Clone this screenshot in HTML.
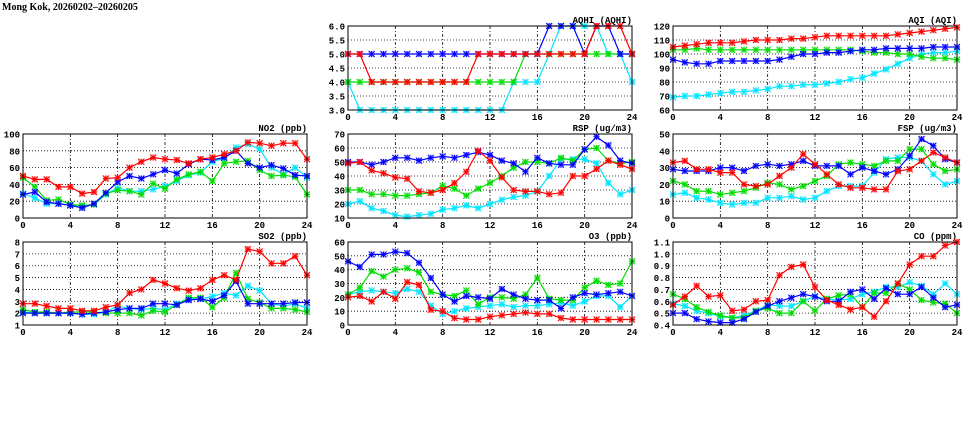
<!DOCTYPE html>
<html><head><meta charset="utf-8"><style>
html,body{margin:0;padding:0;background:#fff;}
svg{display:block;font-family:"Liberation Mono",monospace;}
</style></head><body>
<svg id="c" width="975" height="447" viewBox="0 0 975 447">
<text x="2" y="10" font-size="10" font-weight="bold" font-family="Liberation Serif, serif">Mong Kok, 20260202–20260205</text>
</svg>
<script>
const hours=[0,1,2,3,4,5,6,7,8,9,10,11,12,13,14,15,16,17,18,19,20,21,22,23,24];
const xTicks=[0,4,8,12,16,20,24];
const seriesColors=["#00e5ff","#00dd00","#0000ff","#ff0000"];
const seriesNames=["cyan","green","blue","red"];
// NO2
const no2Cyan=[29,24,17,17,15,14,16,28,36,32,32,34,38,44,51,54,67,71,84,88,82,60,52,60,48];
const no2Green=[48,37,21,22,16,15,16,29,33,32,28,41,35,46,52,55,44,65,67,68,57,50,51,49,28];
const no2Blue=[28,31,19,17,15,12,17,30,43,50,47,52,57,53,64,70,69,72,80,65,60,63,59,51,50];
const no2Red=[50,46,46,37,37,29,31,47,48,60,67,72,70,69,65,70,72,76,80,90,89,86,89,89,70];
const no2Ticks=[0,20,40,60,80,100];
// SO2
const so2Cyan=[2.1,2.0,2.0,2.0,2.0,1.9,1.9,2.1,2.6,2.4,2.3,2.4,2.3,2.8,3.2,3.2,3.4,3.7,3.5,4.3,3.9,2.8,2.6,2.8,2.4];
const so2Green=[2.3,2.1,2.1,2.0,2.1,2.1,2.1,2.0,2.0,2.0,1.8,2.2,2.1,2.7,3.3,3.3,2.5,3.3,5.4,3.2,2.9,2.4,2.4,2.3,2.1];
const so2Blue=[2.0,2.0,2.0,2.0,2.0,1.9,2.0,2.1,2.3,2.4,2.4,2.8,2.8,2.7,3.1,3.2,3.0,3.5,4.7,2.8,2.8,2.8,2.8,2.9,2.9];
const so2Red=[2.8,2.8,2.6,2.4,2.4,2.2,2.2,2.5,2.7,3.7,4.0,4.8,4.5,4.1,3.9,4.1,4.8,5.2,4.8,7.4,7.2,6.2,6.2,6.8,5.2];
const so2Ticks=[1,2,3,4,5,6,7,8];
// AQHI
const aqhiCyan=[4,3,3,3,3,3,3,3,3,3,3,3,3,3,4,4,4,5,6,6,6,6,5,5,4];
const aqhiGreen=[4,4,4,4,4,4,4,4,4,4,4,4,4,4,4,5,5,5,5,5,5,5,5,5,5];
const aqhiBlue=[5,5,5,5,5,5,5,5,5,5,5,5,5,5,5,5,5,6,6,6,5,6,6,5,5];
const aqhiRed=[5,5,4,4,4,4,4,4,4,4,4,5,5,5,5,5,5,5,5,5,5,6,6,6,5];
const aqhiTicks=[3.0,3.5,4.0,4.5,5.0,5.5,6.0];
// RSP
const rspCyan=[20,22,17,15,12,11,12,13,16,17,19,17,20,23,25,26,29,40,52,52,52,49,35,27,30];
const rspGreen=[30,30,27,27,26,26,27,28,33,31,26,31,35,40,46,50,50,49,53,51,59,60,51,49,50];
const rspBlue=[50,50,48,50,53,53,51,53,54,53,55,57,55,51,49,43,53,49,48,48,59,68,62,51,49];
const rspRed=[49,50,44,42,39,38,29,28,30,35,43,58,51,39,30,29,29,27,28,40,40,45,51,48,45];
const rspTicks=[10,20,30,40,50,60,70];
// O3
const o3Cyan=[22,24,25,24,23,26,24,14,8,10,12,13,14,15,13,14,14,15,16,14,17,21,21,13,21];
const o3Green=[22,27,39,35,40,41,38,24,22,21,25,15,20,20,19,22,34,19,18,18,27,32,29,30,46];
const o3Blue=[46,42,51,51,53,52,45,34,22,17,21,20,19,26,22,19,18,18,12,20,23,22,23,24,21];
const o3Red=[20,21,17,24,19,31,29,11,10,5,4,4,6,7,8,9,8,8,5,4,4,4,4,4,4];
const o3Ticks=[0,10,20,30,40,50,60];
// AQI
const aqiCyan=[69,70,70,71,72,73,73,74,75,77,77,78,78,79,80,82,83,86,89,93,97,100,101,101,102];
const aqiGreen=[103,103,104,103,103,103,103,103,103,103,103,103,103,103,103,103,102,101,101,100,100,98,97,97,96];
const aqiBlue=[96,94,93,93,95,95,95,95,95,96,98,100,100,101,101,102,103,103,104,104,104,104,105,105,105];
const aqiRed=[105,106,107,108,108,108,109,110,110,110,111,111,112,113,113,113,113,113,113,114,115,116,117,118,119];
const aqiTicks=[60,70,80,90,100,110,120];
// FSP
const fspCyan=[14,15,12,11,9,8,9,9,12,12,13,11,12,16,19,19,19,27,35,36,36,34,26,20,22];
const fspGreen=[22,20,16,16,14,15,16,18,21,20,17,19,22,25,32,33,32,31,34,34,41,41,32,28,29];
const fspBlue=[29,28,28,28,30,30,28,31,32,31,32,34,31,31,31,26,30,28,26,29,37,47,43,35,33];
const fspRed=[33,34,29,29,27,27,20,19,20,25,30,38,32,26,20,18,18,17,17,28,29,34,39,36,33];
const fspTicks=[0,10,20,30,40,50];
// CO
const coCyan=[.58,.56,.52,.50,.47,.46,.48,.52,.57,.56,.56,.60,.64,.62,.61,.62,.66,.68,.72,.72,.76,.73,.66,.75,.66];
const coGreen=[.66,.62,.55,.51,.48,.46,.46,.52,.54,.50,.50,.60,.52,.62,.65,.66,.55,.67,.67,.75,.70,.61,.59,.58,.50];
const coBlue=[.50,.50,.45,.43,.42,.42,.45,.51,.56,.60,.63,.66,.64,.60,.60,.68,.70,.62,.71,.66,.66,.72,.63,.55,.57];
const coRed=[.57,.64,.73,.64,.65,.52,.53,.60,.61,.82,.89,.91,.72,.61,.57,.53,.55,.47,.60,.75,.91,.98,.98,1.07,1.10];
const coTicks=[0.4,0.5,0.6,0.7,0.8,0.9,1.0,1.1];

const NS="http://www.w3.org/2000/svg";
const svg=document.getElementById('c');
function mk(tag,attrs,parent){const e=document.createElementNS(NS,tag);for(const k in attrs)e.setAttribute(k,attrs[k]);(parent||svg).appendChild(e);return e;}

const panels=[
 {key:"no2",title:"NO2 (ppb)",x0:23,x1:307,y0:134,y1:218,ticks:no2Ticks,dec:0,series:[no2Cyan,no2Green,no2Blue,no2Red]},
 {key:"so2",title:"SO2 (ppb)",x0:23,x1:307,y0:242,y1:325,ticks:so2Ticks,dec:0,series:[so2Cyan,so2Green,so2Blue,so2Red]},
 {key:"aqhi",title:"AQHI (AQHI)",x0:348,x1:632,y0:26,y1:110,ticks:aqhiTicks,dec:1,series:[aqhiCyan,aqhiGreen,aqhiBlue,aqhiRed]},
 {key:"rsp",title:"RSP (ug/m3)",x0:348,x1:632,y0:134,y1:218,ticks:rspTicks,dec:0,series:[rspCyan,rspGreen,rspBlue,rspRed]},
 {key:"o3",title:"O3 (ppb)",x0:348,x1:632,y0:242,y1:325,ticks:o3Ticks,dec:0,series:[o3Cyan,o3Green,o3Blue,o3Red]},
 {key:"aqi",title:"AQI (AQI)",x0:673,x1:957,y0:26,y1:110,ticks:aqiTicks,dec:0,series:[aqiCyan,aqiGreen,aqiBlue,aqiRed]},
 {key:"fsp",title:"FSP (ug/m3)",x0:673,x1:957,y0:134,y1:218,ticks:fspTicks,dec:0,series:[fspCyan,fspGreen,fspBlue,fspRed]},
 {key:"co",title:"CO (ppm)",x0:673,x1:957,y0:242,y1:325,ticks:coTicks,dec:1,series:[coCyan,coGreen,coBlue,coRed]}
];

panels.forEach(p=>{
 const g=mk('g',{});
 
 
 const ymin=p.ticks[0],ymax=p.ticks[p.ticks.length-1];
 const X=h=>p.x0+(h-hours[0])/(hours[hours.length-1]-hours[0])*(p.x1-p.x0);
 const Y=v=>p.y1-(v-ymin)/(ymax-ymin)*(p.y1-p.y0);
 const cid='clip-'+p.key;
 const cp=mk('clipPath',{id:cid},g);
 mk('rect',{x:p.x0-4,y:p.y0-4,width:p.x1-p.x0+8,height:p.y1-p.y0+8},cp);
 p.ticks.forEach(t=>{
  const y=Y(t);
  if(t!==ymin&&t!==ymax){const l=mk('line',{x1:p.x0,x2:p.x1,y1:y,y2:y,stroke:'#000','stroke-width':0.8,'stroke-dasharray':'1,2'},g);
   }
  const tl=mk('text',{x:p.x0-3,y:y+3.5,'font-size':9,'font-weight':'bold','text-anchor':'end'},g);
  tl.textContent=t.toFixed(p.dec);
  
 });
 xTicks.forEach(t=>{
  const x=X(t);
  if(t!==xTicks[0]&&t!==xTicks[xTicks.length-1]){const l=mk('line',{x1:x,x2:x,y1:p.y0,y2:p.y1,stroke:'#000','stroke-width':0.8,'stroke-dasharray':'3,2,1,2'},g);
   }
  const tl=mk('text',{x:x,y:p.y1+10,'font-size':9,'font-weight':'bold','text-anchor':'middle'},g);
  tl.textContent=t;
  
 });
 const title=mk('text',{x:p.x1,y:p.y0-3,'font-size':9,'font-weight':'bold','text-anchor':'end'},g);
 title.textContent=p.title;
 
 const sg=mk('g',{'clip-path':'url(#'+cid+')'},g);
 p.series.forEach((vals,si)=>{
  const col=seriesColors[si];
  const pts=vals.map((v,i)=>X(hours[i]).toFixed(1)+','+Y(v).toFixed(1)).join(' ');
  const pl=mk('polyline',{points:pts,fill:'none',stroke:col,'stroke-width':1.2},sg);
  
  vals.forEach((v,i)=>{
   const x=X(hours[i]),y=Y(v),s=3;
   const m=mk('path',{d:`M${x-s},${y-s}h${2*s}v${2*s}h${-2*s}z`,fill:col,'fill-opacity':0.25,stroke:'none'},sg);
   
   const m2=mk('path',{d:`M${x-s},${y-s}L${x+s},${y+s}M${x-s},${y+s}L${x+s},${y-s}M${x-s},${y}L${x+s},${y}M${x},${y-s}L${x},${y+s}`,stroke:col,'stroke-width':1,fill:'none'},sg);
   
  });
 });
 const fr=mk('rect',{x:p.x0,y:p.y0,width:p.x1-p.x0,height:p.y1-p.y0,fill:'none',stroke:'#000','stroke-width':1},g);
 
});
</script>
</body></html>
